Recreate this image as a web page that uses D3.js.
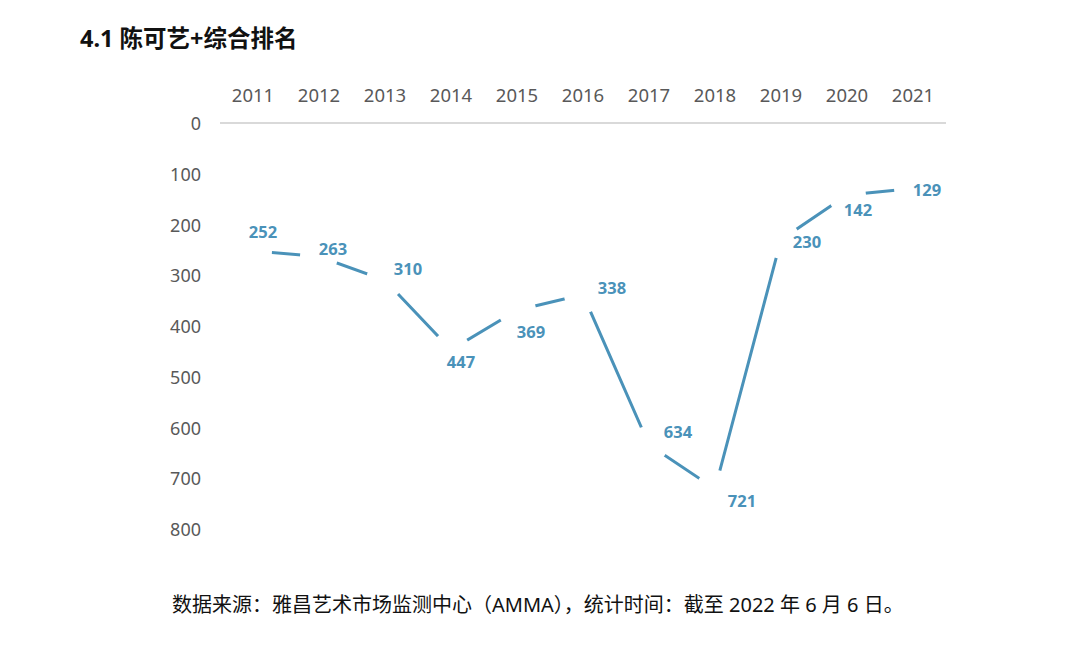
<!DOCTYPE html>
<html>
<head>
<meta charset="utf-8">
<script src="https://cdn.jsdelivr.net/npm/d3@7"></script>
<style>
  body { margin: 0; background: #fff; }
  svg { display: block; font-family: 'Noto Sans', 'Noto Sans CJK SC', sans-serif; }
</style>
</head>
<body>
<div class="chart"></div>
<script>
// Data
const years = ['2011', '2012', '2013', '2014', '2015', '2016', '2017', '2018', '2019', '2020', '2021']
const ranks = [252, 263, 310, 447, 369, 338, 634, 721, 230, 142, 129]
const yTicks = [0, 100, 200, 300, 400, 500, 600, 700, 800]

const title = '4.1 陈可艺+综合排名'
const source = '数据来源：雅昌艺术市场监测中心（AMMA），统计时间：截至 2022 年 6 月 6 日。'

// Label offsets (hand placed, as in the original)
const labelOffsets = [[10, -19], [14, -8], [23, -12], [10, 12], [14, 21], [29, -7], [29, -13], [27, 12], [26, 2], [11, 14], [14, 1]]

/* Configuration */
const width = 1080
const height = 649
const blue = '#4a92b9'

const svg = d3.select('.chart')
    .append('svg')
    .attr('width', width)
    .attr('height', height)

const x = d3.scaleBand()
    .domain(years)
    .range([220, 946])

const y = d3.scaleLinear()
    .domain([0, 800])
    .range([123, 529])

// Title
svg.append('text')
    .attr('x', 80)
    .attr('y', 38)
    .attr('dominant-baseline', 'central')
    .attr('font-size', 23.5)
    .attr('font-weight', 'bold')
    .attr('fill', '#111')
    .text(title)

// Zero line
svg.append('line')
    .attr('x1', 220)
    .attr('x2', 946)
    .attr('y1', y(0))
    .attr('y2', y(0))
    .attr('stroke', '#d9d9d9')
    .attr('stroke-width', 2)

// Y axis labels
svg.append('g')
    .selectAll('text')
    .data(yTicks)
    .join('text')
    .attr('x', 201)
    .attr('y', d => y(d))
    .attr('text-anchor', 'end')
    .attr('dominant-baseline', 'central')
    .attr('font-size', 18)
    .attr('fill', '#595959')
    .text(d => d)

// X axis labels (on top)
svg.append('g')
    .selectAll('text')
    .data(years)
    .join('text')
    .attr('x', d => x(d) + x.bandwidth() / 2)
    .attr('y', 94)
    .attr('text-anchor', 'middle')
    .attr('dominant-baseline', 'central')
    .attr('font-size', 18.5)
    .attr('fill', '#595959')
    .text(d => d)

const points = years.map((d, i) => [x(d) + x.bandwidth() / 2, y(ranks[i])])

// Line
svg.append('path')
    .datum(points)
    .attr('fill', 'none')
    .attr('stroke', blue)
    .attr('stroke-width', 3)
    .attr('d', d3.line())

// White markers hide the line near each point
svg.append('g')
    .selectAll('circle')
    .data(points)
    .join('circle')
    .attr('cx', d => d[0])
    .attr('cy', d => d[1])
    .attr('r', 19)
    .attr('fill', '#fff')

// Value labels
svg.append('g')
    .selectAll('text')
    .data(ranks)
    .join('text')
    .attr('x', (d, i) => points[i][0] + labelOffsets[i][0])
    .attr('y', (d, i) => points[i][1] + labelOffsets[i][1])
    .attr('text-anchor', 'middle')
    .attr('dominant-baseline', 'central')
    .attr('font-size', 16.5)
    .attr('font-weight', 'bold')
    .attr('fill', blue)
    .text(d => d)

// Source
svg.append('text')
    .attr('x', 172)
    .attr('y', 604)
    .attr('dominant-baseline', 'central')
    .attr('font-size', 20)
    .attr('fill', '#111')
    .text(source)
</script>
</body>
</html>
